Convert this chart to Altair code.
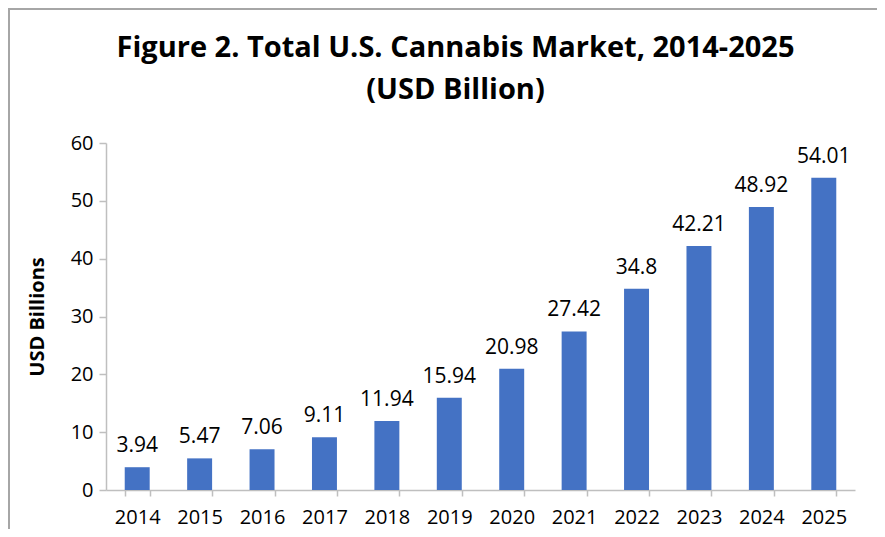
import altair as alt
import pandas as pd

years = ["2014", "2015", "2016", "2017", "2018", "2019", "2020", "2021", "2022", "2023", "2024", "2025"]
values = [3.94, 5.47, 7.06, 9.11, 11.94, 15.94, 20.98, 27.42, 34.8, 42.21, 48.92, 54.01]
labels = ["3.94", "5.47", "7.06", "9.11", "11.94", "15.94", "20.98", "27.42", "34.8", "42.21", "48.92", "54.01"]

df = pd.DataFrame({"year": years, "value": values, "label": labels})

FONT = "Open Sans"
AX = "#BFBFBF"

x = alt.X("year:N", sort=years, title=None,
          scale=alt.Scale(paddingInner=0.6, paddingOuter=0.3),
          axis=alt.Axis(labelAngle=0, labelFont=FONT, labelFontSize=20, labelColor="#000000",
                        labelPadding=11, domainColor=AX, tickColor=AX, tickSize=6,
                        tickBand="extent", domainWidth=1.5, tickWidth=1.5))
y = alt.Y("value:Q", title="USD Billions",
          scale=alt.Scale(domain=[0, 60], nice=False),
          axis=alt.Axis(values=[0, 10, 20, 30, 40, 50, 60], grid=False, labelFont=FONT,
                        labelFontSize=20, labelColor="#000000", labelPadding=6,
                        domainColor=AX, tickColor=AX, tickSize=7, domainWidth=1.5, tickWidth=1.5,
                        titleFont=FONT, titleFontSize=20, titleFontWeight="bold",
                        titleColor="#000000", titlePadding=23))

base = alt.Chart(df)
bars = base.mark_bar(color="#4472C4").encode(x=x, y=y)
text = base.mark_text(dy=-21, font=FONT, fontSize=21, color="#000000").encode(
    x=alt.X("year:N", sort=years), y="value:Q", text="label:N")

border_left = base.mark_rule(color="#A6A6A6", strokeWidth=2, clip=False).encode(
    x=alt.value(-97), y=alt.value(-134), y2=alt.value(420))
border_top = base.mark_rule(color="#A6A6A6", strokeWidth=2, clip=False).encode(
    x=alt.value(-98), x2=alt.value(800), y=alt.value(-134))

chart = alt.layer(bars, text, border_left, border_top).properties(
    width=749, height=347,
    autosize=alt.AutoSizeParams(type="none"),
    padding={"left": 98, "top": 135, "right": 22, "bottom": 39},
    title=alt.TitleParams(
        text=["Figure 2. Total U.S. Cannabis Market, 2014-2025", "(USD Billion)"],
        font=FONT, fontSize=29, fontWeight="bold", color="#000000",
        anchor="middle", dx=-25, offset=-97, lineHeight=42),
).configure_view(stroke=None)

chart.save("out.html", embed_options={"renderer": "svg", "actions": False})
